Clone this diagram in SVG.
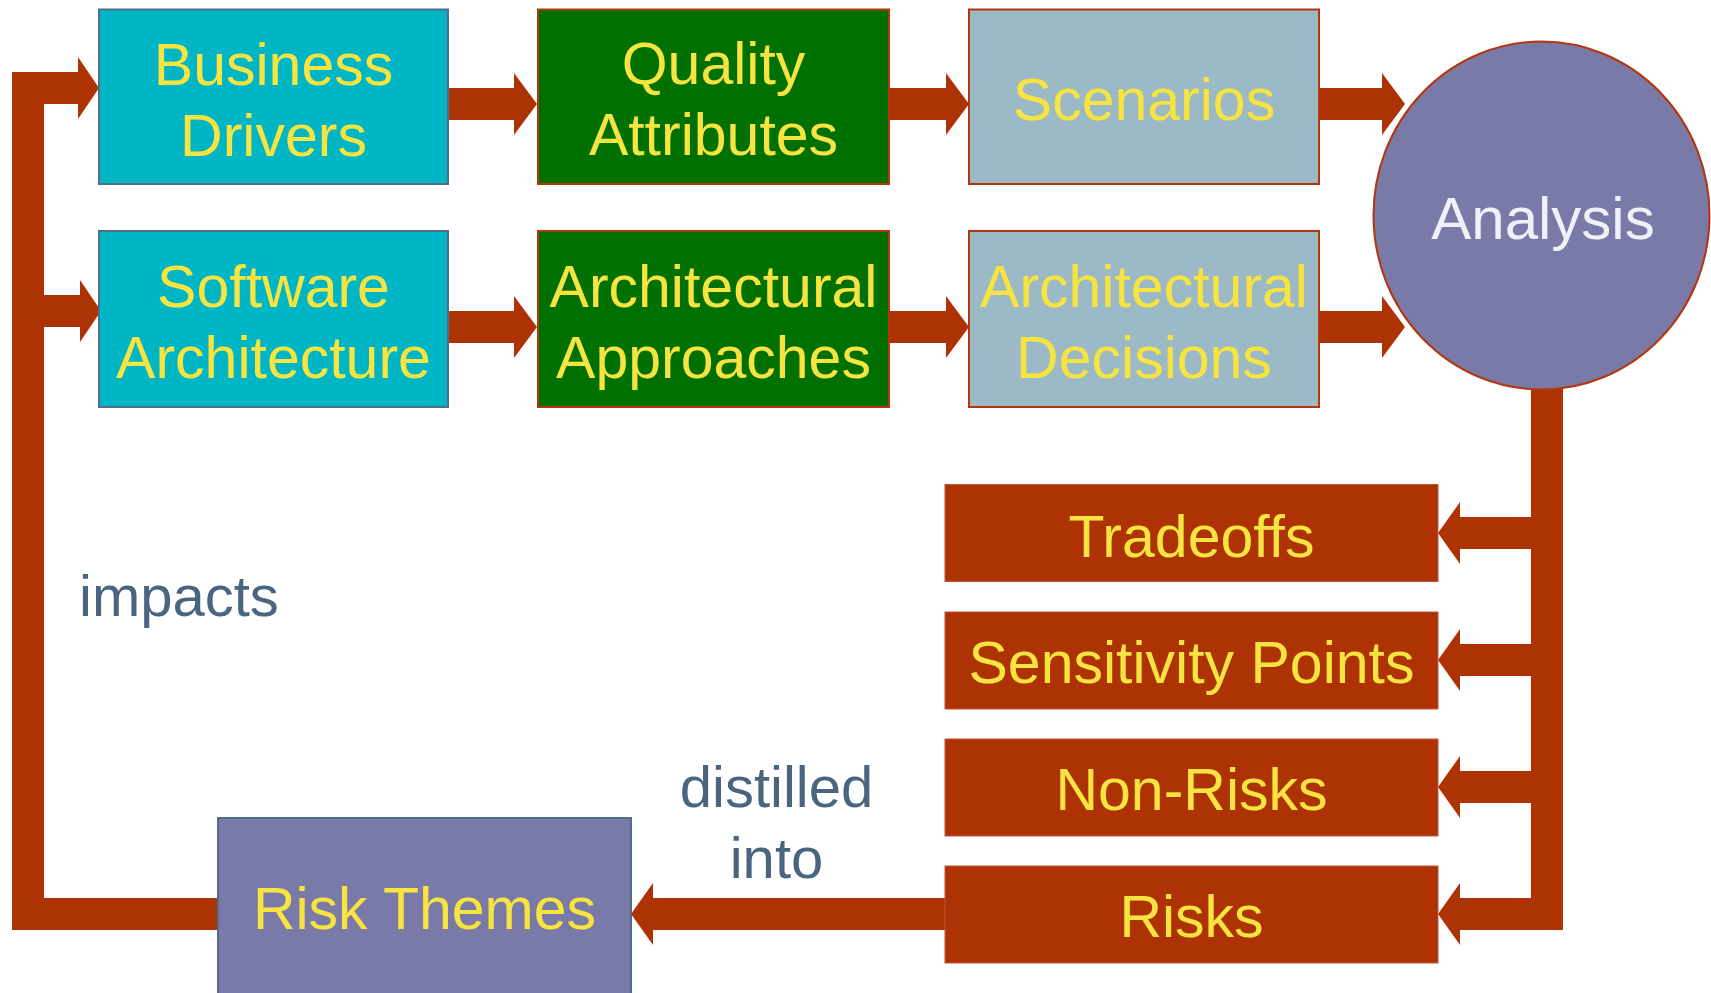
<svg xmlns="http://www.w3.org/2000/svg" width="1711" height="993" viewBox="0 0 1711 993">
<style>
.t{font-family:"Liberation Sans",Arial,sans-serif;font-size:59px;fill:#f7e440;text-anchor:middle}
.lbl{font-family:"Liberation Sans",Arial,sans-serif;font-size:58px;fill:#4a6580}
.cyan{fill:#00b6c5;stroke:#4f6e8c;stroke-width:2}
.green{fill:#007000;stroke:#b3360e;stroke-width:2}
.grey{fill:#9bbac6;stroke:#b3360e;stroke-width:2}
.brown{fill:#ad3304;stroke:#c0553a;stroke-width:1}
.purple{fill:#7a7aa8;stroke:#4f6e8c;stroke-width:2}
.arr{fill:#ad3304}
</style>
<rect width="1711" height="993" fill="#ffffff"/>
<g id="connectors">
<path class="arr" d="M12,72 L78,72 L78,57 L99,88 L78,119 L78,104 L44,104 L44,295 L80,295 L80,280 L101,311 L80,342 L80,327 L44,327 L44,898 L218,898 L218,930 L12,930 Z"/>
<path class="arr" d="M448,88 L514,88 L514,73 L537,104 L514,135 L514,120 L448,120 Z"/>
<path class="arr" d="M889,88 L946,88 L946,73 L969,104 L946,135 L946,120 L889,120 Z"/>
<path class="arr" d="M1318,88 L1382,88 L1382,73 L1405,104 L1382,135 L1382,120 L1318,120 Z"/>
<path class="arr" d="M448,311 L514,311 L514,296 L537,327 L514,358 L514,343 L448,343 Z"/>
<path class="arr" d="M889,311 L946,311 L946,296 L969,327 L946,358 L946,343 L889,343 Z"/>
<path class="arr" d="M1318,311 L1382,311 L1382,296 L1405,327 L1382,358 L1382,343 L1318,343 Z"/>
<rect class="arr" x="1531" y="370" width="32" height="560"/>
<path class="arr" d="M1531,517 L1460,517 L1460,502 L1438,533 L1460,564 L1460,549 L1531,549 Z"/>
<path class="arr" d="M1531,644 L1460,644 L1460,629 L1438,660 L1460,691 L1460,676 L1531,676 Z"/>
<path class="arr" d="M1531,771 L1460,771 L1460,756 L1438,787 L1460,818 L1460,803 L1531,803 Z"/>
<path class="arr" d="M1531,898 L1460,898 L1460,883 L1438,914 L1460,945 L1460,930 L1531,930 Z"/>
<path class="arr" d="M946,898 L653,898 L653,883 L631,914 L653,945 L653,930 L946,930 Z"/>
</g>
<g id="business-drivers">
<rect class="cyan" x="99" y="9.5" width="349" height="174.5"/>
<text class="t" x="273.5" y="85">Business</text>
<text class="t" x="273.5" y="156">Drivers</text>
</g>
<g id="software-architecture">
<rect class="cyan" x="99" y="231" width="349" height="176"/>
<text class="t" x="273.5" y="307">Software</text>
<text class="t" x="273.5" y="378">Architecture</text>
</g>
<g id="quality-attributes">
<rect class="green" x="538" y="9.5" width="351" height="174.5"/>
<text class="t" x="713.5" y="84">Quality</text>
<text class="t" x="713.5" y="155">Attributes</text>
</g>
<g id="architectural-approaches">
<rect class="green" x="538" y="231" width="351" height="176"/>
<text class="t" x="713.5" y="307">Architectural</text>
<text class="t" x="713.5" y="378">Approaches</text>
</g>
<g id="scenarios">
<rect class="grey" x="969" y="9.5" width="350" height="174.5"/>
<text class="t" x="1144" y="120">Scenarios</text>
</g>
<g id="architectural-decisions">
<rect class="grey" x="969" y="231" width="350" height="176"/>
<text class="t" x="1144" y="307">Architectural</text>
<text class="t" x="1144" y="378">Decisions</text>
</g>
<g id="analysis">
<ellipse cx="1541.5" cy="215.5" rx="168" ry="174" fill="#7a7aa8" stroke="#b3360e" stroke-width="2"/>
<text class="t" x="1543" y="239" style="fill:#eef2f8;font-size:60px">Analysis</text>
</g>
<g id="tradeoffs">
<rect class="brown" x="945" y="484.5" width="493" height="97"/>
<text class="t" x="1191.5" y="557">Tradeoffs</text>
</g>
<g id="sensitivity-points">
<rect class="brown" x="945" y="612" width="493" height="97"/>
<text class="t" x="1191.5" y="683">Sensitivity Points</text>
</g>
<g id="non-risks">
<rect class="brown" x="945" y="739" width="493" height="97"/>
<text class="t" x="1191.5" y="810">Non-Risks</text>
</g>
<g id="risks">
<rect class="brown" x="945" y="866" width="493" height="97"/>
<text class="t" x="1191.5" y="937">Risks</text>
</g>
<g id="risk-themes">
<rect class="purple" x="218" y="818" width="413" height="176"/>
<text class="t" x="424.5" y="929">Risk Themes</text>
</g>
<g id="labels">
<text class="lbl" x="79" y="616">impacts</text>
<text class="lbl" x="776.5" y="807" text-anchor="middle">distilled</text>
<text class="lbl" x="776.5" y="878" text-anchor="middle">into</text>
</g>
</svg>
